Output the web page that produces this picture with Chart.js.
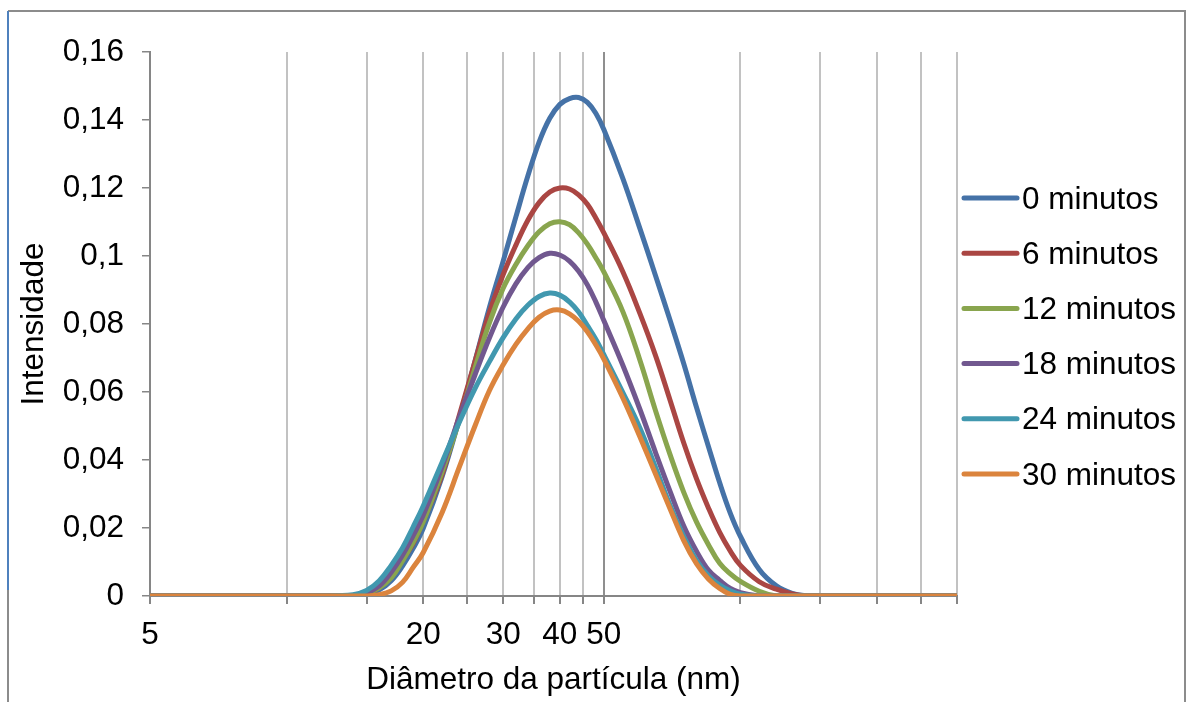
<!DOCTYPE html>
<html>
<head>
<meta charset="utf-8">
<script src="https://cdn.jsdelivr.net/npm/chart.js@4.4.1/dist/chart.umd.min.js"></script>
<style>
  html, body { margin: 0; padding: 0; background: #ffffff; }
  #wrap { position: relative; width: 1187px; height: 702px; }
</style>
</head>
<body>
<div id="wrap"><canvas id="chart" width="1187" height="702"></canvas></div>
<script>
// Particle diameter (nm) of each sample point
const diameters = [5, 10, 12, 14, 15, 16, 17, 18, 19, 20, 22, 24, 26, 28, 30, 32, 34, 36, 38, 40, 42, 44, 46, 48, 50, 55, 60, 65, 70, 75, 80, 85, 90, 95, 100, 110, 120, 130, 140, 150, 200, 250, 300];

// Intensity distribution for each exposure time
const min0 = [0, 0, 0, 0, 0.0005, 0.0018, 0.0045, 0.0088, 0.0140, 0.0199, 0.0350, 0.0520, 0.0690, 0.0850, 0.0985, 0.1115, 0.1235, 0.1335, 0.1405, 0.1446, 0.1463, 0.1466, 0.1452, 0.1420, 0.1372, 0.1230, 0.1082, 0.0942, 0.0810, 0.0683, 0.0555, 0.0440, 0.0333, 0.0243, 0.0175, 0.0078, 0.0030, 0.0008, 0.0001, 0, 0, 0, 0];
const min6 = [0, 0, 0, 0, 0.0008, 0.0025, 0.0063, 0.0106, 0.0155, 0.0221, 0.0357, 0.0530, 0.0690, 0.0835, 0.0945, 0.1032, 0.1105, 0.1157, 0.1188, 0.1200, 0.1197, 0.1180, 0.1152, 0.1112, 0.1068, 0.0955, 0.0832, 0.0707, 0.0575, 0.0450, 0.0345, 0.0259, 0.0187, 0.0132, 0.0090, 0.0042, 0.0020, 0.0006, 0, 0, 0, 0, 0];
const min12 = [0, 0, 0, 0, 0.0008, 0.0024, 0.0053, 0.0103, 0.0158, 0.0218, 0.0365, 0.0515, 0.0670, 0.0805, 0.0905, 0.0975, 0.1030, 0.1071, 0.1095, 0.1101, 0.1092, 0.1068, 0.1035, 0.0995, 0.0953, 0.0838, 0.0695, 0.0545, 0.0415, 0.0305, 0.0218, 0.0151, 0.0096, 0.0065, 0.0043, 0.0014, 0, 0, 0, 0, 0, 0, 0];
const min18 = [0, 0, 0, 0, 0.0010, 0.0030, 0.0070, 0.0120, 0.0178, 0.0238, 0.0380, 0.0525, 0.0650, 0.0760, 0.0850, 0.0918, 0.0966, 0.0995, 0.1008, 0.1003, 0.0985, 0.0955, 0.0915, 0.0865, 0.0810, 0.0680, 0.0550, 0.0422, 0.0307, 0.0206, 0.0132, 0.0076, 0.0046, 0.0022, 0.0010, 0, 0, 0, 0, 0, 0, 0, 0];
const min24 = [0, 0, 0, 0.0004, 0.0016, 0.0045, 0.0090, 0.0141, 0.0203, 0.0265, 0.0393, 0.0510, 0.0610, 0.0690, 0.0760, 0.0815, 0.0855, 0.0881, 0.0891, 0.0885, 0.0865, 0.0835, 0.0795, 0.0755, 0.0710, 0.0600, 0.0495, 0.0378, 0.0266, 0.0175, 0.0105, 0.0060, 0.0032, 0.0015, 0.0005, 0, 0, 0, 0, 0, 0, 0, 0];
const min30 = [0, 0, 0, 0, 0, 0.0004, 0.0015, 0.0040, 0.0084, 0.0128, 0.0245, 0.0378, 0.0500, 0.0605, 0.0680, 0.0740, 0.0786, 0.0820, 0.0838, 0.0841, 0.0830, 0.0808, 0.0777, 0.0739, 0.0697, 0.0584, 0.0469, 0.0359, 0.0256, 0.0163, 0.0095, 0.0050, 0.0022, 0.0005, 0, 0, 0, 0, 0, 0, 0, 0, 0];

const seriesNames = ['0 minutos', '6 minutos', '12 minutos', '18 minutos', '24 minutos', '30 minutos'];
const seriesValues = [min0, min6, min12, min18, min24, min30];
const seriesColors = ['#4572A7', '#AA4643', '#89A54E', '#71588F', '#4198AF', '#DB843D'];

// Diameter axis: gridline positions and the ones that carry a label
const xTickValues = [5, 10, 15, 20, 25, 30, 35, 40, 45, 50, 100, 150, 200, 250, 300];
const xLabelledTicks = [5, 20, 30, 40, 50];

const FONT = '"Liberation Sans", Arial, sans-serif';
const FONT_SIZE = 31.5;
const LINE_WIDTH = 5;

const datasets = seriesNames.map((name, i) => ({
  label: name,
  data: diameters.map((d, k) => ({ x: d, y: seriesValues[i][k] })),
  borderColor: seriesColors[i],
  backgroundColor: seriesColors[i],
  borderWidth: LINE_WIDTH,
  pointRadius: 0,
  fill: false,
  tension: 0.4,
  order: seriesNames.length - 1 - i
}));

// Outer frame of the chart
const framePlugin = {
  id: 'frame',
  afterDraw(chart) {
    const ctx = chart.ctx;
    ctx.save();
    ctx.lineWidth = 2;
    ctx.strokeStyle = '#8c8c8c';
    ctx.beginPath();
    ctx.moveTo(8, 11); ctx.lineTo(1185, 11); ctx.lineTo(1185, 702);
    ctx.moveTo(8, 590); ctx.lineTo(8, 702);
    ctx.stroke();
    ctx.strokeStyle = '#4F81BD';
    ctx.beginPath();
    ctx.moveTo(8, 11); ctx.lineTo(8, 590);
    ctx.stroke();
    ctx.restore();
  }
};

// Legend on the right: a line sample followed by the series name
const legendPlugin = {
  id: 'sideLegend',
  afterDraw(chart) {
    const ctx = chart.ctx;
    ctx.save();
    ctx.font = FONT_SIZE + 'px ' + FONT;
    ctx.textBaseline = 'middle';
    ctx.textAlign = 'left';
    chart.data.datasets.forEach((ds, i) => {
      const y = 198 + i * 55.2;
      ctx.strokeStyle = ds.borderColor;
      ctx.lineWidth = LINE_WIDTH;
      ctx.lineCap = 'round';
      ctx.beginPath();
      ctx.moveTo(964, y);
      ctx.lineTo(1017, y);
      ctx.stroke();
      ctx.fillStyle = '#000000';
      ctx.fillText(ds.label, 1022, y + 2);
    });
    ctx.restore();
  }
};

new Chart(document.getElementById('chart'), {
  type: 'line',
  data: { datasets },
  options: {
    responsive: false,
    animation: false,
    layout: { padding: { top: 52, right: 230, bottom: 0, left: 0 } },
    elements: { line: { capBezierPoints: true } },
    plugins: {
      legend: { display: false },
      tooltip: { enabled: false }
    },
    scales: {
      x: {
        type: 'logarithmic',
        min: 5,
        max: 300,
        afterBuildTicks(scale) {
          scale.ticks = xTickValues.map(v => ({ value: v }));
        },
        afterFit(scale) { scale.height = 106; },
        grid: {
          display: true,
          drawOnChartArea: true,
          drawTicks: true,
          tickLength: 8,
          lineWidth: 2,
          color: (c) => (c.tick && c.tick.value === 50) ? '#8f8f8f' : '#c2c2c2',
          tickColor: '#868686'
        },
        border: { display: true, color: '#868686', width: 2 },
        ticks: {
          autoSkip: false,
          maxRotation: 0,
          minRotation: 0,
          padding: 12,
          color: '#000000',
          font: { family: FONT, size: FONT_SIZE },
          callback: (v) => xLabelledTicks.includes(v) ? String(v) : ''
        },
        title: {
          display: true,
          text: 'Diâmetro da partícula (nm)',
          color: '#000000',
          font: { family: FONT, size: FONT_SIZE },
          padding: { top: 0, bottom: 3 }
        }
      },
      y: {
        min: 0,
        max: 0.16,
        afterFit(scale) { scale.width = 150; },
        grid: {
          display: true,
          drawOnChartArea: false,
          drawTicks: true,
          tickLength: 8,
          lineWidth: 1.5,
          color: '#868686'
        },
        border: { display: true, color: '#868686', width: 2 },
        ticks: {
          stepSize: 0.02,
          padding: 18,
          color: '#000000',
          font: { family: FONT, size: FONT_SIZE },
          callback: (v) => Number(v.toFixed(2)).toString().replace('.', ',')
        },
        title: {
          display: true,
          text: 'Intensidade',
          color: '#000000',
          font: { family: FONT, size: FONT_SIZE },
          padding: { top: 15, bottom: 0 }
        }
      }
    }
  },
  plugins: [framePlugin, legendPlugin]
});
</script>
</body>
</html>
